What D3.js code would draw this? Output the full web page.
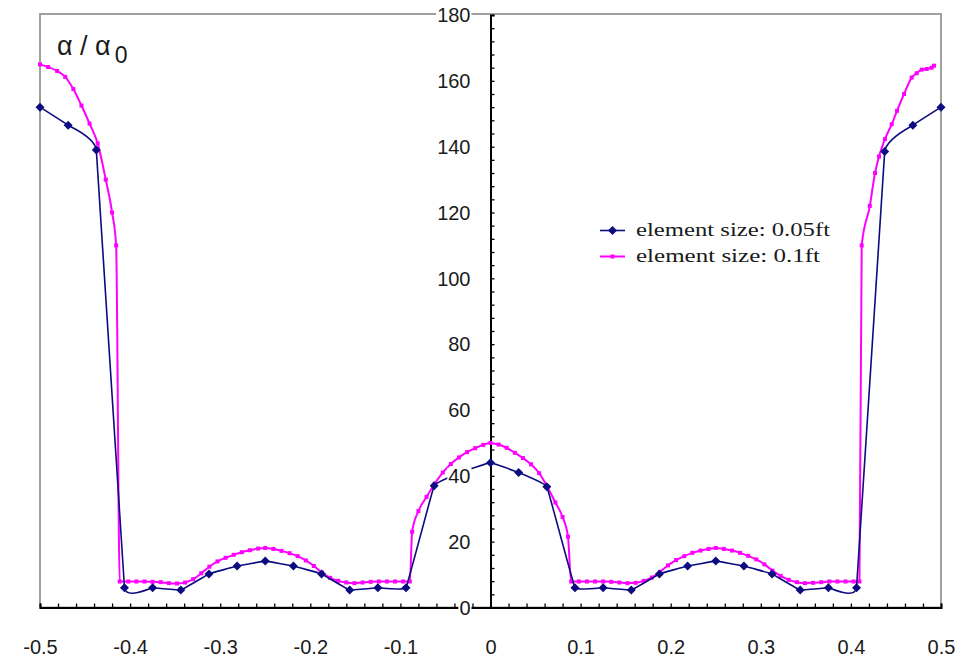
<!DOCTYPE html>
<html>
<head>
<meta charset="utf-8">
<script src="https://cdn.jsdelivr.net/npm/d3@7"></script>
<style>
  html, body { margin: 0; padding: 0; background: #ffffff; }
  svg { display: block; }
</style>
</head>
<body>
<svg id="chart" width="962" height="667"></svg>
<script>
// Normalised position across the plate and stress ratio alpha / alpha0
const xTickLabels = [-0.5, -0.4, -0.3, -0.2, -0.1, 0, 0.1, 0.2, 0.3, 0.4, 0.5];
const yTickLabels = [0, 20, 40, 60, 80, 100, 120, 140, 160, 180];

// element size 0.05 ft
const fineX = [-0.5, -0.46875, -0.4375, -0.40625, -0.375, -0.34375, -0.3125, -0.28125,
  -0.25, -0.21875, -0.1875, -0.15625, -0.125, -0.09375, -0.0625, -0.03125, 0,
  0.03125, 0.0625, 0.09375, 0.125, 0.15625, 0.1875, 0.21875, 0.25,
  0.28125, 0.3125, 0.34375, 0.375, 0.40625, 0.4375, 0.46875, 0.5];
const fineY = [152, 146.5, 139, 6, 6, 5.3, 10.2, 12.6,
  14.1, 12.6, 10.2, 5.3, 6, 6, 37, 41.2, 44,
  41, 36.7, 6, 6, 5.3, 10.2, 12.6, 14.1,
  12.6, 10.2, 5.3, 6, 6, 138.5, 146.5, 152];

// element size 0.1 ft
const coarseX = [
  -0.5, -0.491, -0.481, -0.472, -0.463, -0.454, -0.445, -0.436, -0.427, -0.42, -0.4155,
  -0.4115, -0.402, -0.393, -0.384, -0.375, -0.366, -0.357, -0.348, -0.339, -0.33,
  -0.321, -0.312, -0.303, -0.294, -0.285, -0.276, -0.267, -0.258, -0.25, -0.241,
  -0.232, -0.223, -0.214, -0.205, -0.196, -0.187, -0.178, -0.169, -0.16, -0.151,
  -0.142, -0.133, -0.124, -0.115, -0.106, -0.097, -0.0895, -0.087, -0.08, -0.071,
  -0.062, -0.053, -0.044, -0.035, -0.026, -0.017, -0.008, 0,
  0.009, 0.018, 0.027, 0.036, 0.045, 0.054, 0.063, 0.072, 0.08, 0.086, 0.0895,
  0.098, 0.107, 0.116, 0.125, 0.134, 0.143, 0.152, 0.161, 0.17, 0.179,
  0.188, 0.197, 0.206, 0.215, 0.224, 0.233, 0.242, 0.25, 0.259, 0.268,
  0.277, 0.286, 0.295, 0.304, 0.313, 0.322, 0.331, 0.34, 0.349, 0.358,
  0.367, 0.376, 0.385, 0.394, 0.403, 0.4095, 0.412, 0.421, 0.4268, 0.4312,
  0.4378, 0.4453, 0.4512, 0.459, 0.4675, 0.473, 0.4786, 0.4841, 0.4897, 0.4922];
const coarseY = [
  165, 164.2, 163, 161.2, 157.5, 152.5, 147, 141, 130, 120, 110,
  7.9, 7.9, 7.9, 7.9, 7.8, 7.7, 7.4, 7.3, 7.6, 8.6,
  10.4, 12.4, 14, 15.1, 16, 16.8, 17.4, 17.9, 18.1, 17.8,
  17.2, 16.5, 15.6, 14.3, 12.6, 10.6, 9, 8.1, 7.6, 7.4,
  7.6, 7.8, 7.9, 7.9, 7.9, 7.9, 7.9, 23, 29.3, 33.6,
  37.6, 41, 43.6, 45.6, 47.2, 48.4, 49.4, 50,
  49.5, 48.5, 47, 45.4, 43.5, 40.8, 36.7, 31.9, 27.5, 21.5, 7.9,
  7.9, 7.9, 7.9, 7.9, 7.8, 7.6, 7.4, 7.5, 8.1, 9.1,
  10.8, 12.8, 14.4, 15.6, 16.6, 17.3, 17.8, 18.1, 17.8, 17.3,
  16.6, 15.7, 14.6, 13.1, 11.2, 9.6, 8.4, 7.7, 7.4, 7.5,
  7.7, 7.9, 7.9, 7.9, 7.9, 7.9, 110, 122, 132, 137,
  142.3, 146.8, 150.9, 156, 161, 162.3, 163.4, 163.6, 164, 164.6];

const seriesNames = ["element size: 0.05ft", "element size: 0.1ft"];
const seriesColors = ["#0c0c80", "#ff00ff"];

const svg = d3.select("#chart");
const plotLeft = 40, plotRight = 941, plotTop = 15, plotBottom = 607.5;

const x = d3.scaleLinear().domain([-0.5, 0.5]).range([plotLeft, plotRight]);
const y = d3.scaleLinear().domain([0, 180]).range([plotBottom, plotTop]);

// plot frame
svg.append("rect")
  .attr("x", plotLeft).attr("y", plotTop - 1)
  .attr("width", plotRight - plotLeft).attr("height", plotBottom - plotTop + 1)
  .attr("fill", "none").attr("stroke", "#a0a0a0").attr("stroke-width", 2);

// x axis with inward minor ticks every 0.02
const xMinor = d3.range(-25, 26).map(i => i / 50);
const xAxisG = svg.append("g").attr("transform", `translate(0,${plotBottom})`)
  .call(d3.axisBottom(x).tickValues(xMinor).tickSize(-4).tickFormat(""));
xAxisG.select(".domain").attr("stroke", "#000").attr("stroke-width", 2);
xAxisG.selectAll(".tick line").attr("stroke", "#000").attr("stroke-width", 1.3);

// x tick labels
const xLab = svg.append("g").attr("transform", `translate(0,${plotBottom})`)
  .call(d3.axisBottom(x).tickValues(xTickLabels).tickSize(0).tickPadding(32)
    .tickFormat(d => String(d)));
xLab.select(".domain").remove();
xLab.selectAll("text")
  .attr("font-family", "'Liberation Sans', Arial, sans-serif")
  .attr("font-size", 20).attr("fill", "#1a1a1a");

// y axis at x = 0 with ticks every 4 units on its right side
const yMinor = d3.range(0, 46).map(i => i * 4);
const yAxisG = svg.append("g").attr("transform", `translate(${x(0)},0)`)
  .call(d3.axisRight(y).tickValues(yMinor).tickSize(4).tickFormat(""));
yAxisG.select(".domain").attr("stroke", "#000").attr("stroke-width", 2);
yAxisG.selectAll(".tick line").attr("stroke", "#000").attr("stroke-width", 1.3);

const fine = fineX.map((v, i) => [v, fineY[i]]);
const coarse = coarseX.map((v, i) => [v, coarseY[i]]);

// coarse mesh: dense points, monotone smoothing keeps the jumps sharp
const coarseLine = d3.line()
  .x(d => x(d[0])).y(d => y(d[1]))
  .curve(d3.curveMonotoneX);

// fine mesh: lightly smoothed through the nodes
const fineLine = d3.line()
  .x(d => x(d[0])).y(d => y(d[1]))
  .curve(d3.curveCardinal.tension(0.83));

svg.append("path").datum(coarse)
  .attr("d", coarseLine).attr("fill", "none")
  .attr("stroke", seriesColors[1]).attr("stroke-width", 2);

svg.append("g").selectAll("rect").data(coarse).join("rect")
  .attr("x", d => x(d[0]) - 2).attr("y", d => y(d[1]) - 2)
  .attr("width", 4).attr("height", 4)
  .attr("fill", seriesColors[1]);

svg.append("path").datum(fine)
  .attr("d", fineLine).attr("fill", "none")
  .attr("stroke", seriesColors[0]).attr("stroke-width", 1.6);

const diamond = "M0,-4.5L4.5,0L0,4.5L-4.5,0Z";
svg.append("g").selectAll("path").data(fine).join("path")
  .attr("d", diamond)
  .attr("transform", d => `translate(${x(d[0])},${y(d[1])})`)
  .attr("fill", seriesColors[0]);

// y tick labels on opaque white boxes, left of the axis
const yLab = svg.append("g");
yTickLabels.forEach(v => {
  const g = yLab.append("g");
  const t = g.append("text")
    .attr("x", x(0) - 20).attr("y", y(v))
    .attr("dy", "0.36em")
    .attr("text-anchor", "end")
    .attr("font-family", "'Liberation Sans', Arial, sans-serif")
    .attr("font-size", 20).attr("fill", "#1a1a1a")
    .text(String(v));
  const b = t.node().getBBox();
  g.insert("rect", "text")
    .attr("x", b.x - 1).attr("y", y(v) - 8)
    .attr("width", b.width + 2).attr("height", 16)
    .attr("fill", "#ffffff");
});

// quantity label
const title = svg.append("text")
  .attr("x", 57).attr("y", 55)
  .attr("font-family", "'Liberation Sans', Arial, sans-serif")
  .attr("font-size", 27).attr("fill", "#1a1a1a");
title.append("tspan").text("\u03b1 / \u03b1");
title.append("tspan").attr("dx", 4).attr("dy", 8).attr("font-size", 23).text("0");

// legend
const legend = svg.append("g");
const rows = [{ y: 230.5, w: 194 }, { y: 256.5, w: 184 }];
rows.forEach((r, i) => {
  legend.append("line")
    .attr("x1", 600).attr("x2", 625).attr("y1", r.y).attr("y2", r.y)
    .attr("stroke", seriesColors[i]).attr("stroke-width", i === 0 ? 1.6 : 2);
  if (i === 0) {
    legend.append("path").attr("d", diamond)
      .attr("transform", `translate(612.5,${r.y})`).attr("fill", seriesColors[0]);
  } else {
    legend.append("rect").attr("x", 610.5).attr("y", r.y - 2)
      .attr("width", 4).attr("height", 4).attr("fill", seriesColors[1]);
  }
  legend.append("text")
    .attr("x", 636).attr("y", r.y + 5.5)
    .attr("font-family", "'Liberation Serif', 'Times New Roman', serif")
    .attr("font-size", 18).attr("fill", "#1a1a1a")
    .attr("textLength", r.w).attr("lengthAdjust", "spacingAndGlyphs")
    .text(seriesNames[i]);
});
</script>
</body>
</html>
